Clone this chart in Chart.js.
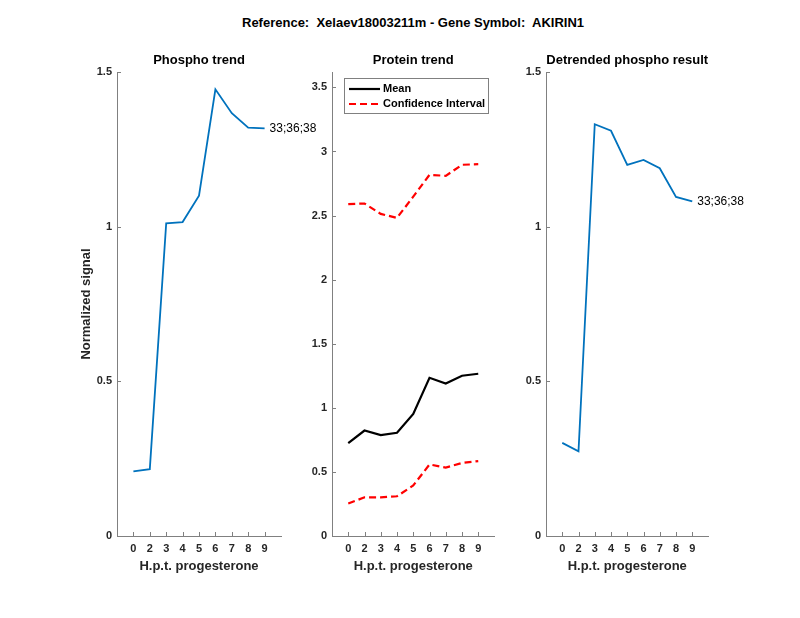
<!DOCTYPE html>
<html>
<head>
<meta charset="utf-8">
<script src="https://cdn.jsdelivr.net/npm/chart.js@4.4.1/dist/chart.umd.min.js"></script>
<style>
    html, body { margin: 0; padding: 0; background: #fff; }
    #fig { position: relative; width: 800px; height: 618px; overflow: hidden; }
    #fig canvas { position: absolute; top: 0; }
    #suptitle {
        position: absolute; top: 15px; left: 413px; transform: translateX(-50%);
        font: bold 13px 'Liberation Sans', Arial, Helvetica, sans-serif; line-height: 15px;
        white-space: pre; color: #000;
    }
</style>
</head>
<body>
<div id="fig">
    <div id="suptitle">Reference:  Xelaev18003211m - Gene Symbol:  AKIRIN1</div>
    <canvas id="phosphoChart" width="330" height="618" style="left:0px"></canvas>
    <canvas id="proteinChart" width="230" height="618" style="left:290px"></canvas>
    <canvas id="detrendChart" width="295" height="618" style="left:505px"></canvas>
</div>
<script>
// hours post treatment, one per sample
const hours = [0, 2, 3, 4, 5, 6, 7, 8, 9];

const phosphoTrend = [0.209, 0.216, 1.011, 1.015, 1.100, 1.444, 1.367, 1.320, 1.318];
const proteinMean  = [0.724, 0.823, 0.787, 0.805, 0.953, 1.234, 1.190, 1.250, 1.266];
const proteinUpper = [2.589, 2.594, 2.513, 2.482, 2.648, 2.818, 2.810, 2.896, 2.901];
const proteinLower = [0.253, 0.302, 0.302, 0.310, 0.394, 0.558, 0.534, 0.570, 0.584];
const detrended    = [0.301, 0.274, 1.331, 1.310, 1.200, 1.216, 1.189, 1.096, 1.082];

const peptideLabel = '33;36;38';

const FONT = "'Liberation Sans', Arial, Helvetica, sans-serif";
const AXIS_COLOR = '#808080';
const TEXT_COLOR = '#262626';
const BLUE = '#0072BD';

Chart.defaults.font.family = FONT;
Chart.defaults.color = TEXT_COLOR;

// x positions are sample indices 1..9, labelled with the hour
function points(values) {
    return values.map((v, i) => ({ x: i + 1, y: v }));
}

// matlab style ticks pointing into the axes
const inwardTicks = {
    id: 'inwardTicks',
    afterDraw(chart) {
        const { ctx, scales: { x, y } } = chart;
        ctx.save();
        ctx.strokeStyle = AXIS_COLOR;
        ctx.lineWidth = 1;
        ctx.beginPath();
        x.ticks.forEach(t => {
            const px = Math.round(x.getPixelForValue(t.value)) + 0.5;
            ctx.moveTo(px, y.bottom);
            ctx.lineTo(px, y.bottom - 4);
        });
        y.ticks.forEach(t => {
            const py = Math.round(y.getPixelForValue(t.value)) + 0.5;
            ctx.moveTo(x.left, py);
            ctx.lineTo(x.left + 4, py);
        });
        ctx.stroke();
        ctx.restore();
    }
};

// text next to the last point of the first dataset
const endLabel = {
    id: 'endLabel',
    afterDatasetsDraw(chart, args, opts) {
        if (!opts.text) return;
        const pts = chart.getDatasetMeta(0).data;
        const last = pts[pts.length - 1];
        const ctx = chart.ctx;
        ctx.save();
        ctx.font = `12px ${FONT}`;
        ctx.fillStyle = '#000';
        ctx.textBaseline = 'middle';
        ctx.fillText(opts.text, last.x + 5, last.y);
        ctx.restore();
    }
};

// boxed legend inside the axes, top left
const boxLegend = {
    id: 'boxLegend',
    afterDraw(chart, args, opts) {
        if (!opts.display) return;
        const { ctx, chartArea } = chart;
        const items = chart.data.datasets.filter(d => d.inLegend);
        const left = chartArea.left + 12;
        const top = chartArea.top + 6;
        ctx.save();
        ctx.fillStyle = '#fff';
        ctx.fillRect(left, top, 144, 35);
        ctx.strokeStyle = AXIS_COLOR;
        ctx.lineWidth = 1;
        ctx.strokeRect(left + 0.5, top + 0.5, 144, 35);
        ctx.font = `bold 11px ${FONT}`;
        ctx.textBaseline = 'middle';
        items.forEach((d, i) => {
            const ry = top + 11 + i * 15;
            ctx.strokeStyle = d.borderColor;
            ctx.lineWidth = d.borderWidth;
            ctx.setLineDash(d.borderDash || []);
            ctx.beginPath();
            ctx.moveTo(left + 5, ry);
            ctx.lineTo(left + 36, ry);
            ctx.stroke();
            ctx.setLineDash([]);
            ctx.fillStyle = '#000';
            ctx.fillText(d.label, left + 39, ry);
        });
        ctx.restore();
    }
};

function xScale() {
    return {
        type: 'linear',
        min: 0,
        max: 10,
        afterBuildTicks: s => { s.ticks = hours.map((h, i) => ({ value: i + 1 })); },
        afterFit: s => { s.height = 82; },
        ticks: {
            autoSkip: false,
            maxRotation: 0,
            padding: 6,
            color: TEXT_COLOR,
            font: { size: 11, weight: 'bold' },
            callback: v => String(hours[v - 1])
        },
        grid: { display: false, drawTicks: false },
        border: { display: true, color: AXIS_COLOR, width: 1 },
        title: {
            display: true,
            text: 'H.p.t. progesterone',
            color: TEXT_COLOR,
            font: { size: 13, weight: 'bold' },
            padding: { top: 0, bottom: 44 }
        }
    };
}

function yScale(max, width, title) {
    return {
        type: 'linear',
        min: 0,
        max: max,
        afterFit: s => { s.width = width; },
        ticks: {
            stepSize: 0.5,
            includeBounds: false,
            padding: 5,
            color: TEXT_COLOR,
            font: { size: 11, weight: 'bold' },
            callback: v => String(v)
        },
        grid: { display: false, drawTicks: false },
        border: { display: true, color: AXIS_COLOR, width: 1 },
        title: {
            display: !!title,
            text: title || '',
            color: TEXT_COLOR,
            font: { size: 13, weight: 'bold' },
            padding: { top: 79, bottom: 0 }
        }
    };
}

function panelTitle(text) {
    return {
        display: true,
        text: text,
        fullSize: false,
        color: '#000',
        font: { size: 13, weight: 'bold' },
        padding: { top: 13, bottom: 3.4 }
    };
}

function baseOptions(title, yMax, yWidth, yTitle, padRight, extra) {
    return {
        responsive: false,
        animation: false,
        layout: { padding: { left: 0, top: 40, right: padRight, bottom: 0 } },
        elements: { point: { radius: 0 }, line: { tension: 0 } },
        scales: { x: xScale(), y: yScale(yMax, yWidth, yTitle) },
        plugins: Object.assign({
            title: panelTitle(title),
            legend: { display: false },
            tooltip: { enabled: false }
        }, extra)
    };
}

new Chart(document.getElementById('phosphoChart'), {
    type: 'line',
    data: {
        datasets: [{
            label: 'Phospho trend',
            data: points(phosphoTrend),
            borderColor: BLUE,
            borderWidth: 1.8
        }]
    },
    options: baseOptions('Phospho trend', 1.5, 117, 'Normalized signal', 49,
        { endLabel: { text: peptideLabel } }),
    plugins: [inwardTicks, endLabel]
});

new Chart(document.getElementById('proteinChart'), {
    type: 'line',
    data: {
        datasets: [{
            label: 'Mean',
            data: points(proteinMean),
            borderColor: '#000',
            borderWidth: 2.2,
            inLegend: true
        }, {
            label: 'Confidence Interval',
            data: points(proteinUpper),
            borderColor: '#ff0000',
            borderWidth: 2.2,
            borderDash: [7, 4],
            inLegend: true
        }, {
            label: 'Lower bound',
            data: points(proteinLower),
            borderColor: '#ff0000',
            borderWidth: 2.2,
            borderDash: [7, 4]
        }]
    },
    options: baseOptions('Protein trend', 3.62, 42, null, 25.5,
        { boxLegend: { display: true } }),
    plugins: [inwardTicks, boxLegend]
});

new Chart(document.getElementById('detrendChart'), {
    type: 'line',
    data: {
        datasets: [{
            label: 'Detrended phospho result',
            data: points(detrended),
            borderColor: BLUE,
            borderWidth: 1.8
        }]
    },
    options: baseOptions('Detrended phospho result', 1.5, 41, null, 91.5,
        { endLabel: { text: peptideLabel } }),
    plugins: [inwardTicks, endLabel]
});
</script>
</body>
</html>
